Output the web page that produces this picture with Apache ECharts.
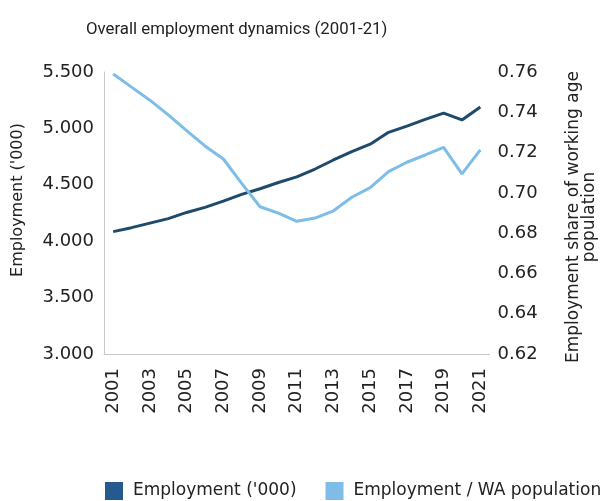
<!DOCTYPE html>
<html><head><meta charset="utf-8">
<script src="https://cdn.jsdelivr.net/npm/echarts@6/dist/echarts.min.js"></script>
<style>html,body{margin:0;padding:0;background:#fff}#c{width:606px;height:501px}</style>
</head><body><div id="c"></div>
<script>
var years = ['2001','2002','2003','2004','2005','2006','2007','2008','2009','2010','2011','2012','2013','2014','2015','2016','2017','2018','2019','2020','2021'];
var employment = [4085,4120,4160,4200,4255,4300,4355,4415,4465,4520,4570,4640,4720,4795,4860,4965,5020,5080,5135,5075,5190];
var empShare = [0.759,0.7525,0.746,0.7387,0.7309,0.7233,0.7168,0.7047,0.6931,0.6899,0.6859,0.6875,0.6911,0.6978,0.7026,0.7105,0.7152,0.7188,0.7226,0.7094,0.7213];
var leftTicks = {min:3000, max:5500, interval:500};
var rightTicks = {min:0.62, max:0.76, interval:0.02};
var FONT = 'DejaVu Sans';
var chart = echarts.init(document.getElementById('c'));
chart.setOption({
  animation:false,
  textStyle:{fontFamily:FONT},
  title:{text:'Overall employment dynamics (2001-21)', left:81, top:16, textStyle:{fontFamily:'Roboto', fontSize:16.8, fontWeight:'normal', color:'#222'}},
  legend:{bottom:1, left:105, padding:0, width:501, itemWidth:18, itemHeight:18, itemGap:29, icon:'rect',
    textStyle:{fontFamily:FONT, fontSize:17, color:'#222', padding:[0,0,0,5]},
    data:['Employment (\'000)','Employment / WA population']},
  grid:{left:104, right:100, top:72, bottom:147},
  xAxis:{type:'category', data:years, boundaryGap:true,
    axisLine:{lineStyle:{color:'#c8c8c8'}}, axisTick:{show:false},
    axisLabel:{rotate:90, interval:1, fontSize:18, color:'#222', margin:14}},
  yAxis:[
    {type:'value', min:leftTicks.min, max:leftTicks.max, interval:leftTicks.interval,
     name:'Employment (\'000)', nameLocation:'middle', nameGap:78, nameTextStyle:{fontSize:16, color:'#222', padding:[0,0,0,26]},
     axisLine:{show:true, lineStyle:{color:'#c8c8c8'}}, axisTick:{show:false}, splitLine:{show:false},
     axisLabel:{fontSize:18, color:'#222', margin:10, formatter:function(v){return (v/1000).toFixed(3);}}},
    {type:'value', min:rightTicks.min, max:rightTicks.max, interval:rightTicks.interval, position:'right',
     name:'Employment share of working age\npopulation', nameLocation:'middle', nameGap:76, nameRotate:90,
     nameTextStyle:{fontSize:17, color:'#222', lineHeight:16, padding:[0,0,0,-8]},
     axisLine:{show:false}, axisTick:{show:false}, splitLine:{show:false},
     axisLabel:{fontSize:18, color:'#222', margin:8, formatter:function(v){return v.toFixed(2);}}}
  ],
  series:[
    {name:'Employment (\'000)', type:'line', data:employment, yAxisIndex:0, symbol:'none',
     itemStyle:{color:'#245a8e'}, lineStyle:{color:'#1e4a6b', width:3}},
    {name:'Employment / WA population', type:'line', data:empShare, yAxisIndex:1, symbol:'none',
     itemStyle:{color:'#7dbde8'}, lineStyle:{color:'#7dbde8', width:3}}
  ]
});
</script></body></html>
